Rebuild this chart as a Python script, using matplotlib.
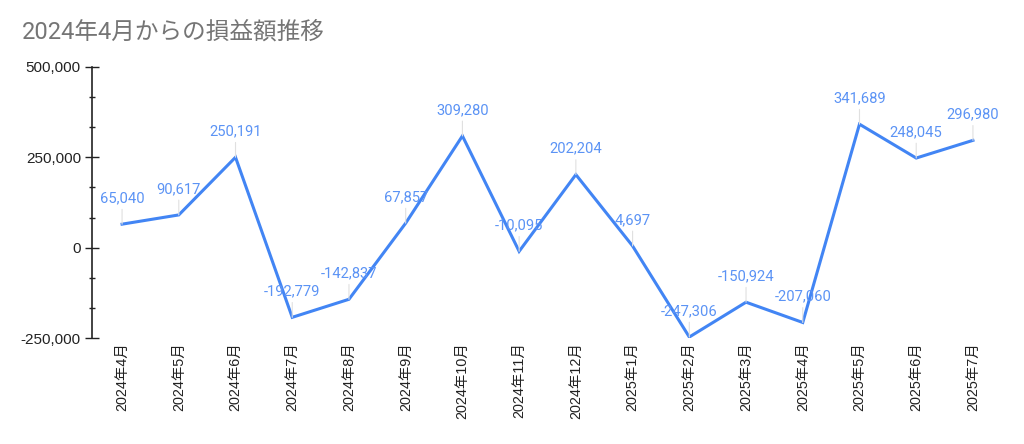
import matplotlib
matplotlib.use('Agg')
import matplotlib.pyplot as plt
from matplotlib.ticker import FuncFormatter, MultipleLocator

plt.rcParams['font.family'] = ['Roboto', 'Noto Sans CJK JP', 'DejaVu Sans']
axis_font = ['Liberation Sans', 'Noto Sans CJK JP', 'DejaVu Sans']

months = ['2024年4月', '2024年5月', '2024年6月', '2024年7月', '2024年8月', '2024年9月',
          '2024年10月', '2024年11月', '2024年12月', '2025年1月', '2025年2月', '2025年3月',
          '2025年4月', '2025年5月', '2025年6月', '2025年7月']
profit = [65040, 90617, 250191, -192779, -142837, 67857, 309280, -10095, 202204,
          4697, -247306, -150924, -207060, 341689, 248045, 296980]

blue = '#4285F4'

fig = plt.figure(figsize=(10.24, 4.44), dpi=100)
ax = fig.add_axes([92/1024, 1 - 338/444, (1003 - 92)/1024, (338 - 67)/444])

x = list(range(len(months)))
ax.plot(x, profit, color=blue, lw=2.2, solid_joinstyle='miter', zorder=3)

for xi, v in zip(x, profit):
    ax.annotate(f'{v:,}', xy=(xi, v), xytext=(0, 26), textcoords='offset pixels',
                ha='center', va='center', fontsize=10.6, color='#5b93f5',
                arrowprops=dict(arrowstyle='-', color='#e0e0e0', lw=0.8,
                                shrinkA=1, shrinkB=0), zorder=4)

ax.set_xlim(-0.53, len(months) - 0.47)
ax.set_ylim(-250000, 500000)
ax.yaxis.set_major_locator(MultipleLocator(250000))
ax.yaxis.set_minor_locator(MultipleLocator(250000/3))
ax.yaxis.set_major_formatter(FuncFormatter(lambda v, p: f'{int(v):,}'))
ax.tick_params(axis='y', which='major', direction='inout', length=10, width=1,
               labelsize=11, color='#222222', labelcolor='#222222', pad=3)
ax.tick_params(axis='y', which='minor', direction='inout', length=4.5, width=1,
               color='#222222')
for t in ax.get_yticklabels():
    t.set_family(axis_font)

ax.set_xticks(x)
ax.set_xticklabels(months, rotation=90, fontsize=10.4, color='#222222',
                   family=axis_font)
ax.tick_params(axis='x', length=0, pad=3)

for s in ['top', 'right', 'bottom']:
    ax.spines[s].set_visible(False)
ax.spines['left'].set_color('#222222')
ax.spines['left'].set_linewidth(1.2)

fig.text(22/1024, 1 - 32/444, '2024年4月からの損益額推移', fontsize=17,
         color='#757575', va='center', ha='left')

fig.savefig('out.png', dpi=100)
